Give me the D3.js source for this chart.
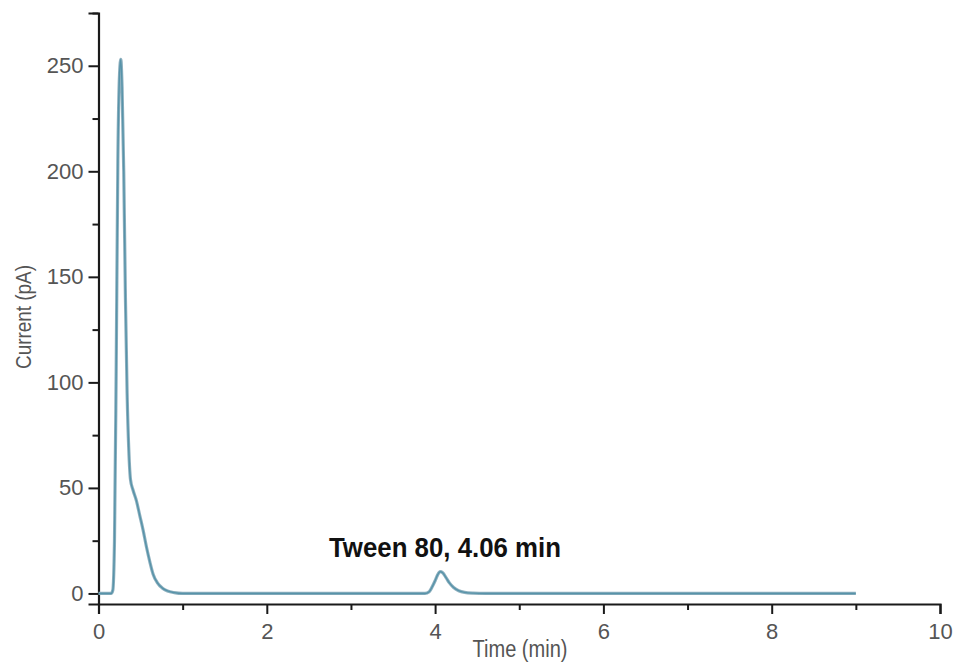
<!DOCTYPE html>
<html>
<head>
<meta charset="utf-8">
<script src="https://cdn.jsdelivr.net/npm/d3@7"></script>
<style>
  html, body { margin: 0; padding: 0; background: #ffffff; }
  svg { display: block; }
  text { font-family: "Liberation Sans", Arial, Helvetica, sans-serif; }
</style>
</head>
<body>
<svg id="chart" width="957" height="663"></svg>
<script>
// Chromatogram trace: retention time (min) and detector current (pA)
const timeMin = [
  0, 0.10, 0.15, 0.17, 0.19, 0.21, 0.23, 0.25, 0.265, 0.28, 0.30, 0.32, 0.34, 0.36,
  0.38, 0.41, 0.45, 0.49, 0.53, 0.57, 0.61, 0.65, 0.70, 0.76, 0.82, 0.90, 1.0,
  1.5, 2.0, 2.5, 3.0, 3.5, 3.88, 3.93, 3.97, 4.0, 4.03, 4.06, 4.09, 4.13, 4.17,
  4.22, 4.28, 4.35, 4.45, 4.6, 5.0, 6.0, 7.0, 8.0, 9.0
];
const currentPA = [
  0, 0, 0, 1.5, 25, 105, 205, 246, 253, 240, 200, 140, 95, 68,
  54, 49, 44, 37, 30, 22, 15, 9, 5, 2.5, 1.2, 0.4, 0,
  0, 0, 0, 0, 0, 0, 0.8, 3.5, 6, 8.8, 10.3, 9.8, 7.5, 5.0,
  2.8, 1.3, 0.5, 0.15, 0, 0, 0, 0, 0, 0
];

const xMajorTicks = [0, 2, 4, 6, 8, 10];
const xMinorTicks = [1, 3, 5, 7, 9];
const yMajorTicks = [0, 50, 100, 150, 200, 250];
const yMinorTicks = [25, 75, 125, 175, 225, 275];

const peakLabel = "Tween 80, 4.06 min";
const peakTime = 4.06;
const xTitle = "Time (min)";
const yTitle = "Current (pA)";

const svg = d3.select("#chart");

const x = d3.scaleLinear().domain([0, 10]).range([98.5, 940]);
const y = d3.scaleLinear().domain([-5, 275]).range([604, 13]);

const axisColor = "#1a1a1a";
const labelColor = "#555555";

// X axis: major ticks with labels, minor ticks without
const gx = svg.append("g").attr("transform", `translate(0,${y(-5)})`);
gx.call(d3.axisBottom(x).tickValues(xMajorTicks).tickSize(10).tickPadding(8).tickFormat(d3.format("d")));
svg.append("g").attr("transform", `translate(0,${y(-5)})`)
  .call(d3.axisBottom(x).tickValues(xMinorTicks).tickSize(6).tickFormat(""))
  .call(g => g.select(".domain").remove());

// Y axis
const gy = svg.append("g").attr("transform", `translate(${x(0)},0)`);
gy.call(d3.axisLeft(y).tickValues(yMajorTicks).tickSize(10).tickPadding(5).tickFormat(d3.format("d")));
svg.append("g").attr("transform", `translate(${x(0)},0)`)
  .call(d3.axisLeft(y).tickValues(yMinorTicks).tickSize(6).tickFormat(""))
  .call(g => g.select(".domain").remove());

svg.selectAll(".domain").attr("stroke", axisColor).attr("stroke-width", 2.2);
svg.selectAll(".tick line").attr("stroke", axisColor).attr("stroke-width", 2);
svg.selectAll(".tick text")
  .attr("fill", labelColor)
  .style("font-size", "22px")
  .style("font-family", "'Liberation Sans', Arial, sans-serif");
gx.selectAll(".tick text").attr("dy", "0.78em");

// Chromatogram trace
const line = d3.line()
  .x((d, i) => x(timeMin[i]))
  .y(d => y(d))
  .curve(d3.curveMonotoneX);

svg.append("path")
  .datum(currentPA)
  .attr("d", line)
  .attr("fill", "none")
  .attr("stroke", "#8eb0bf")
  .attr("stroke-width", 3.2)
  .attr("stroke-linejoin", "round");
svg.append("path")
  .datum(currentPA)
  .attr("d", line)
  .attr("fill", "none")
  .attr("stroke", "#2a7c98")
  .attr("stroke-opacity", 0.55)
  .attr("stroke-width", 1.4)
  .attr("stroke-linejoin", "round");

// Peak annotation (condensed bold)
svg.append("text")
  .attr("x", 445)
  .attr("y", 557)
  .attr("text-anchor", "middle")
  .attr("fill", "#111111")
  .attr("textLength", 232)
  .attr("lengthAdjust", "spacingAndGlyphs")
  .style("font-size", "28px")
  .style("font-weight", "bold")
  .text(peakLabel);

// Axis titles (condensed)
svg.append("text")
  .attr("x", 520)
  .attr("y", 657)
  .attr("text-anchor", "middle")
  .attr("fill", labelColor)
  .attr("textLength", 95)
  .attr("lengthAdjust", "spacingAndGlyphs")
  .style("font-size", "23px")
  .text(xTitle);

svg.append("text")
  .attr("transform", `translate(31,317) rotate(-90)`)
  .attr("text-anchor", "middle")
  .attr("fill", labelColor)
  .attr("textLength", 104)
  .attr("lengthAdjust", "spacingAndGlyphs")
  .style("font-size", "22px")
  .text(yTitle);
</script>
</body>
</html>
